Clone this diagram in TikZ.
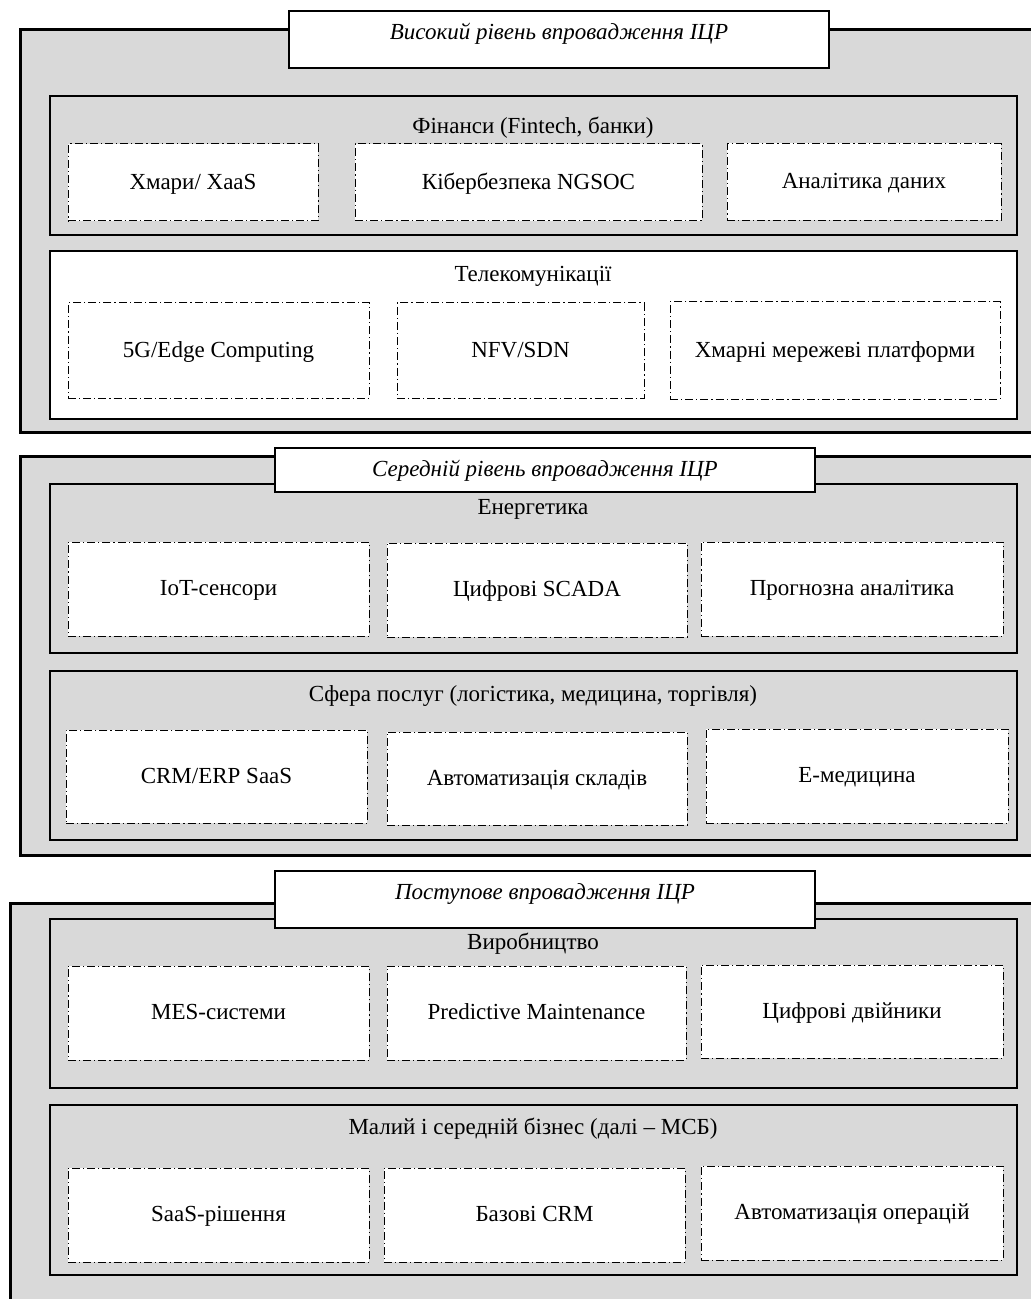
\documentclass[tikz,border=0pt]{standalone}
\usepackage{fontspec}
\setmainfont{Liberation Serif}
\definecolor{panelgray}{HTML}{D9D9D9}

\begin{document}
\begin{tikzpicture}[x=0.5pt, y=-0.5pt,
        every node/.style={inner sep=0pt, text height=9.4pt, text depth=2.6pt,
            font=\fontsize{11.5}{13}\selectfont},
        level/.style={draw, line width=1.5pt, fill=panelgray},
        leveltitle/.style={draw, line width=0.8pt, fill=white},
        leveltext/.style={font=\fontsize{11.5}{13}\selectfont\itshape},
        sector/.style={draw, line width=0.9pt, fill=panelgray},
        tool/.style={draw, line width=0.5pt, fill=white,
            dash pattern=on 4pt off 1.5pt on 0.6pt off 1.5pt}]
        \useasboundingbox (0,0) rectangle (1030,1299);
        % high level
        \node [level, minimum width=510pt, minimum height=201pt] (high) at (530,231) {};
        \node [sector, minimum width=483.5pt, minimum height=69.5pt] (fin) at (533.5,165.5) {};
        \node (fintitle) at (533,127) {Фінанси (Fintech, банки)};
        \node [tool, minimum width=125pt, minimum height=38.5pt] (fina) at (193,182.5) {Хмари/ XaaS};
        \node [tool, minimum width=173.5pt, minimum height=38.5pt] (finb) at (528.5,182.5) {Кібербезпека NGSOC};
        \node [tool, minimum width=137pt, minimum height=38.5pt] (finc) at (864,182) {Аналітика даних};
        \node [sector, fill=white, minimum width=483.5pt, minimum height=84pt] (tel) at (533.5,335) {};
        \node (teltitle) at (533,275) {Телекомунікації};
        \node [tool, minimum width=150.5pt, minimum height=47.5pt] (tela) at (218.5,350.5) {5G/Edge Computing};
        \node [tool, minimum width=123.5pt, minimum height=47.5pt] (telb) at (520.5,350.5) {NFV/SDN};
        \node [tool, minimum width=165pt, minimum height=48.5pt] (telc) at (835,350.5) {Хмарні мережеві платформи};
        % medium level
        \node [level, minimum width=510pt, minimum height=199.5pt] (mid) at (530,655.5) {};
        \node [sector, minimum width=483.5pt, minimum height=84.5pt] (ener) at (533.5,568.5) {};
        \node (enertitle) at (533,508) {Енергетика};
        \node [tool, minimum width=150.5pt, minimum height=47pt] (enera) at (218.5,589) {IoT-сенсори};
        \node [tool, minimum width=150pt, minimum height=47pt] (enerb) at (537,590) {Цифрові SCADA};
        \node [tool, minimum width=151pt, minimum height=47pt] (enerc) at (852,589) {Прогнозна аналітика};
        \node [sector, minimum width=483.5pt, minimum height=84.5pt] (serv) at (533.5,755.5) {};
        \node (servtitle) at (533,695) {Сфера послуг (логістика, медицина, торгівля)};
        \node [tool, minimum width=150.5pt, minimum height=46.5pt] (serva) at (216.5,776.5) {CRM/ERP SaaS};
        \node [tool, minimum width=150pt, minimum height=46.5pt] (servb) at (537,778.5) {Автоматизація складів};
        \node [tool, minimum width=151pt, minimum height=47pt] (servc) at (857,776) {Е-медицина};
        % gradual level
        \node [level, minimum width=515pt, minimum height=203.5pt] (low) at (525,1106.5) {};
        \node [sector, minimum width=483.5pt, minimum height=84.5pt] (prod) at (533.5,1003.5) {};
        \node (prodtitle) at (533,943) {Виробництво};
        \node [tool, minimum width=150.5pt, minimum height=47pt] (proda) at (218.5,1013) {MES-системи};
        \node [tool, minimum width=149.5pt, minimum height=47pt] (prodb) at (536.5,1013) {Predictive Maintenance};
        \node [tool, minimum width=151pt, minimum height=46.5pt] (prodc) at (852,1011.5) {Цифрові двійники};
        \node [sector, minimum width=483.5pt, minimum height=85pt] (sme) at (533.5,1190) {};
        \node (smetitle) at (533,1128) {Малий і середній бізнес (далі – МСБ)};
        \node [tool, minimum width=150.5pt, minimum height=47pt] (smea) at (218.5,1215) {SaaS-рішення};
        \node [tool, minimum width=150.5pt, minimum height=47pt] (smeb) at (534.5,1215) {Базові CRM};
        \node [tool, minimum width=151pt, minimum height=47pt] (smec) at (852,1213) {Автоматизація операцій};
        % level titles on top
        \node [leveltitle, minimum width=270pt, minimum height=28.5pt] (hightitle) at (559,39.5) {};
        \node [leveltext] at (559,33) {Високий рівень впровадження ІЦР};
        \node [leveltitle, minimum width=270pt, minimum height=22pt] (midtitle) at (545,470) {};
        \node [leveltext] at (545,470) {Середній рівень впровадження ІЦР};
        \node [leveltitle, minimum width=270pt, minimum height=28.5pt] (lowtitle) at (545,899.5) {};
        \node [leveltext] at (545,893) {Поступове впровадження ІЦР};
    \end{tikzpicture}
\end{document}
